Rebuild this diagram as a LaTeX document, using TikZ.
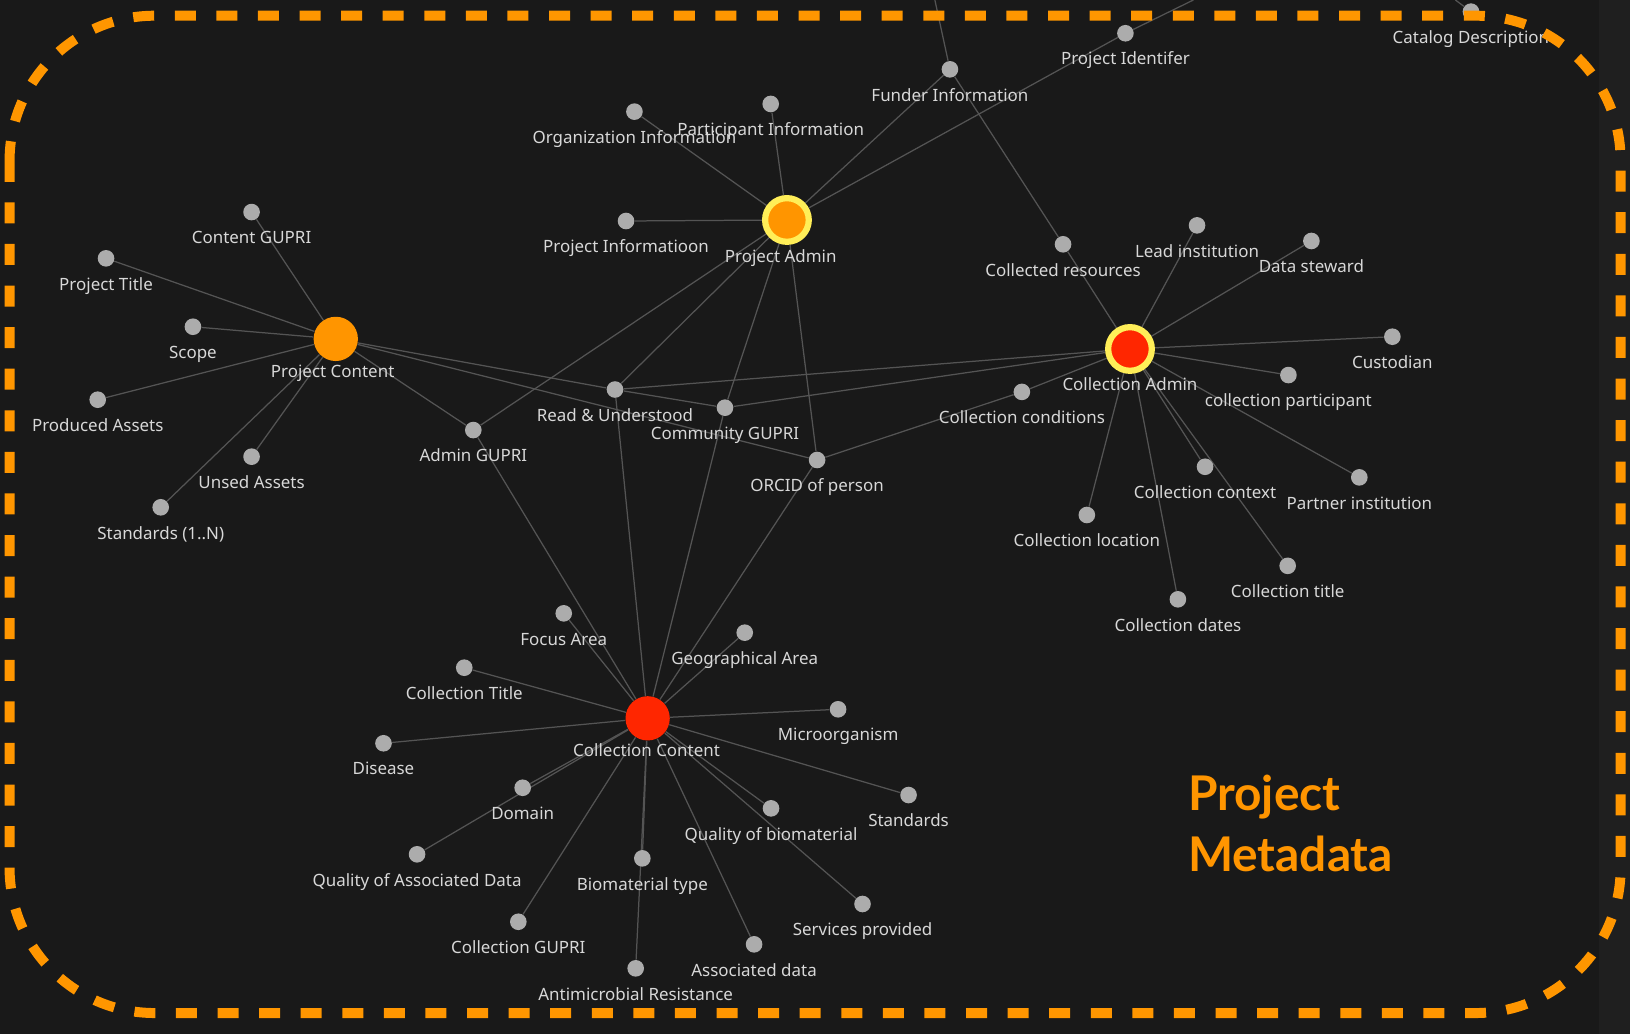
\documentclass[tikz,border=0pt]{standalone}
\usepackage{fontspec}
\setmainfont{Noto Sans}
\newfontfamily\titlefont{Lato}
\usetikzlibrary{backgrounds}
\definecolor{bgc}{RGB}{25,25,25}
\definecolor{stripc}{RGB}{31,31,31}
\definecolor{edgec}{RGB}{84,84,84}
\definecolor{leafc}{RGB}{172,172,172}
\definecolor{lblc}{RGB}{216,216,216}
\definecolor{hubor}{RGB}{255,149,0}
\definecolor{hubred}{RGB}{255,38,0}
\definecolor{ringc}{RGB}{255,238,88}
\definecolor{borderc}{RGB}{255,150,0}
\newcommand\mkleaf[4]{\node[leaf] (#1) at (#2,#3) {};\node[lbl] (#1l) at (#2,#3+30.5) {#4};}
\begin{document}
\begin{tikzpicture}[x=0.5pt,y=-0.5pt,
  edge/.style={draw=edgec, line width=0.6pt},
  leaf/.style={circle, fill=leafc, minimum size=8pt, inner sep=0pt},
  hubo/.style={circle, fill=hubor, minimum size=21.3pt, inner sep=0pt},
  hubr/.style={circle, fill=hubred, minimum size=21.3pt, inner sep=0pt},
  ringo/.style={circle, fill=hubor, draw=ringc, line width=3pt, minimum size=21pt, inner sep=0pt},
  ringr/.style={circle, fill=hubred, draw=ringc, line width=3pt, minimum size=21pt, inner sep=0pt},
  lbl/.style={text=lblc, font=\fontsize{8.15}{10}\selectfont, anchor=base, inner sep=0pt},
  ttl/.style={text=hubor, font=\titlefont\bfseries\fontsize{23}{27}\selectfont, anchor=base west, inner sep=0pt},
  frame/.style={draw=borderc, line width=4.8pt, dash pattern=on 10.1pt off 9.9pt, rounded corners=69.8pt}
]
\useasboundingbox (0,0) rectangle (1568,995);
% hubs
\node[hubo] (pc) at (323,326) {};
\node[ringo] (pa) at (757,211.6) {};
\node[ringr] (ca) at (1087,335.7) {};
\node[hubr] (cc) at (623,691) {};
% leaves
\mkleaf{cgupri}{242}{204}{Content GUPRI}
\mkleaf{ptitle}{102}{248.5}{Project Title}
\mkleaf{scope}{185.6}{314.3}{Scope}
\mkleaf{prod}{94}{384.5}{Produced Assets}
\mkleaf{unsed}{242}{439.3}{Unsed Assets}
\mkleaf{std}{154.6}{488}{Standards (1..N)}
\mkleaf{agupri}{455.3}{413.7}{Admin GUPRI}
\mkleaf{ru}{591.6}{374.7}{Read \& Understood}
\mkleaf{cgup}{697.4}{392.2}{Community GUPRI}
\mkleaf{orcid}{786}{442.5}{ORCID of person}
\mkleaf{org}{610.3}{107.4}{Organization Information}
\mkleaf{part}{741.4}{100}{Participant Information}
\mkleaf{pinfo}{602.2}{212.6}{Project Informatioon}
\mkleaf{funder}{913.8}{66.7}{Funder Information}
\mkleaf{pid}{1082.6}{32}{Project Identifer}
\mkleaf{catalog}{1415}{11.2}{Catalog Description}
\mkleaf{collres}{1022.6}{235}{Collected resources}
\mkleaf{lead}{1151.5}{216.8}{Lead institution}
\mkleaf{steward}{1261.5}{231.8}{Data steward}
\mkleaf{cust}{1339.4}{323.9}{Custodian}
\mkleaf{cpart}{1239.4}{360.8}{collection participant}
\mkleaf{ccond}{983}{377}{Collection conditions}
\mkleaf{cctx}{1159.2}{449}{Collection context}
\mkleaf{partner}{1307.6}{459.2}{Partner institution}
\mkleaf{cloc}{1045.5}{495.4}{Collection location}
\mkleaf{ctitle}{1238.7}{544.3}{Collection title}
\mkleaf{cdates}{1133.1}{576.5}{Collection dates}
\mkleaf{focus}{542.3}{590}{Focus Area}
\mkleaf{geo}{716.4}{608.6}{Geographical Area}
\mkleaf{colltitle}{446.6}{642.3}{Collection Title}
\mkleaf{disease}{368.9}{715}{Disease}
\mkleaf{micro}{806.2}{682.3}{Microorganism}
\mkleaf{domain}{502.8}{757.8}{Domain}
\mkleaf{stds}{874}{764.8}{Standards}
\mkleaf{qbio}{741.7}{777.6}{Quality of biomaterial}
\mkleaf{qad}{401.2}{821.8}{Quality of Associated Data}
\mkleaf{biotype}{617.9}{825.7}{Biomaterial type}
\mkleaf{services}{829.7}{869.6}{Services provided}
\mkleaf{cgupri2}{498.6}{886.7}{Collection GUPRI}
\mkleaf{assoc}{725.4}{908.4}{Associated data}
\mkleaf{amr}{611.5}{931.5}{Antimicrobial Resistance}
% hub labels
\node[lbl] (pcl) at (320,363.5) {Project Content};
\node[lbl] (pal) at (751,252.2) {Project Admin};
\node[lbl] (cal) at (1087,375.7) {Collection Admin};
\node[lbl] (ccl) at (622,728) {Collection Content};
% off-canvas ends
\coordinate (futop) at (899.3,0);
\coordinate (pidtop) at (1148,0);
\coordinate (cattop) at (1400,0);
% title
\node[ttl] (t1) at (1142.4,779.6) {Project};
\node[ttl] (t2) at (1142.4,838.8) {Metadata};
\begin{pgfonlayer}{background}
\fill[bgc] (0,0) rectangle (1568,995);
\fill[stripc] (1538,0) rectangle (1568,995);
% Project Content
\foreach \t in {cgupri,ptitle,scope,prod,unsed,std,agupri,ru,orcid}
  \draw[edge] (pc) -- (\t);
\draw[edge] (ru) -- (cgup);
% Project Admin
\foreach \t in {org,part,pinfo,funder,pid,agupri,ru,cgup,orcid}
  \draw[edge] (pa) -- (\t);
% Collection Admin
\foreach \t in {collres,lead,steward,cust,cpart,partner,cctx,ctitle,cdates,cloc,ccond,ru,cgup}
  \draw[edge] (ca) -- (\t);
\draw[edge] (funder) -- (collres);
\draw[edge] (funder) -- (futop);
\draw[edge] (pid) -- (pidtop);
\draw[edge] (catalog) -- (cattop);
\draw[edge] (orcid) -- (ccond);
% Collection Content
\foreach \t in {focus,agupri,ru,cgup,orcid,geo,colltitle,disease,micro,stds,qbio,services,assoc,biotype,amr,cgupri2,domain,qad}
  \draw[edge] (cc) -- (\t);
\end{pgfonlayer}
% frame
\draw[frame] (9.2,15.1) rectangle (1559,974.5);
\end{tikzpicture}
\end{document}
